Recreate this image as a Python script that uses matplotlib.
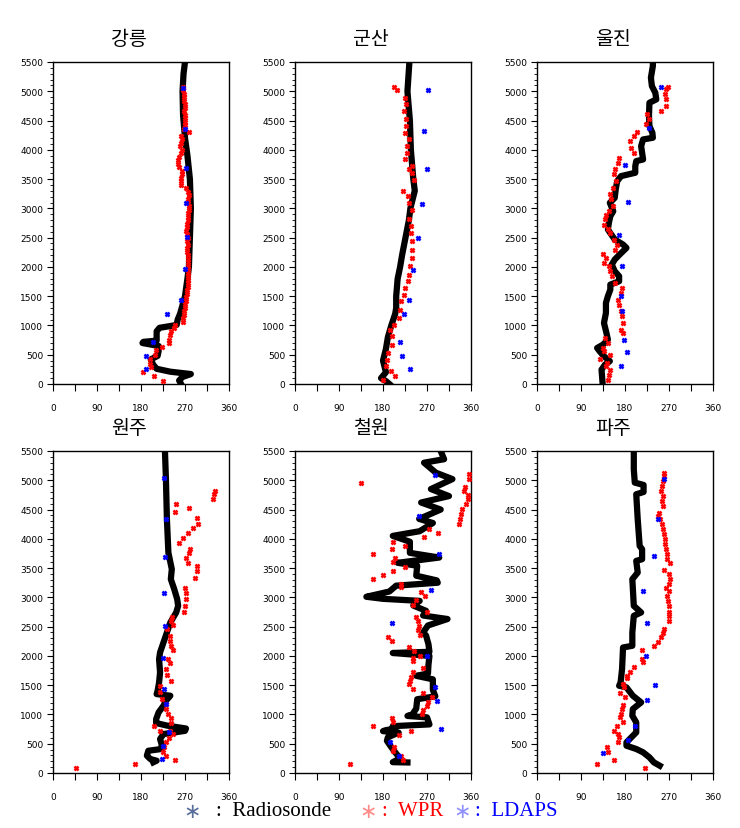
import matplotlib
matplotlib.use('Agg')
import matplotlib.pyplot as plt
from matplotlib.ticker import MultipleLocator

stations = ['강릉', '군산', '울진', '원주', '철원', '파주']

# ---- 강릉 ----
gn_rs_dir = [262, 258, 265, 282, 240, 212, 205, 200, 214, 216, 216, 183, 185, 212, 212,
             212, 218, 240, 253, 255, 260, 265, 270, 275, 278, 280, 282, 280, 275, 270,
             266, 265, 267, 270]
gn_rs_h = [0, 60, 120, 170, 210, 260, 330, 420, 480, 560, 650, 700, 720, 740, 800,
           900, 960, 990, 1010, 1100, 1200, 1350, 1500, 1800, 2000, 2500, 3000, 3500, 3900, 4200,
           4600, 5000, 5300, 5500]
gn_wpr_dir = [225, 207, 185, 200, 199, 198, 209, 211, 222, 237,
              238, 240, 241, 248, 249, 265, 266, 267, 268, 270,
              271, 272, 273, 274, 275, 276, 276, 277, 277, 276,
              276, 277, 277, 276, 276, 275, 275, 276, 275, 276,
              274, 273, 274, 275, 276, 277, 277, 278, 278, 276,
              277, 278, 276, 272, 262, 261, 262, 264, 263, 257,
              256, 255, 257, 262, 263, 260, 262, 263, 262, 278,
              268, 270, 270, 271, 269, 268, 269, 270, 268, 268,
              267, 266, 265]
gn_wpr_h = [57, 142, 210, 290, 350, 420, 500, 575, 630, 700,
            760, 830, 900, 960, 1010, 1060, 1120, 1180, 1240, 1300,
            1360, 1420, 1480, 1540, 1600, 1660, 1720, 1780, 1840, 1900,
            1960, 2020, 2080, 2140, 2200, 2260, 2320, 2380, 2440, 2500,
            2560, 2620, 2680, 2740, 2800, 2860, 2920, 2980, 3040, 3100,
            3160, 3220, 3280, 3340, 3400, 3460, 3520, 3580, 3640, 3700,
            3760, 3820, 3880, 3940, 4000, 4060, 4120, 4180, 4240, 4300,
            4360, 4420, 4480, 4540, 4600, 4660, 4720, 4780, 4840, 4900,
            4960, 5020, 5080]
gn_ld_dir = [265, 269, 272, 272, 274, 271, 262, 234, 204, 191, 191]
gn_ld_h = [5060, 4360, 3693, 3095, 2508, 1966, 1442, 1197, 712, 484, 256]

# ---- 군산 ----
gs_rs_dir = [193, 186, 176, 186, 183, 180, 186, 190, 197, 201, 205, 207, 207, 210, 215,
             219, 226, 233, 236, 245, 242, 237, 235, 230, 234]
gs_rs_h = [0, 50, 100, 200, 300, 400, 600, 800, 1000, 1100, 1200, 1300, 1500, 1800, 2000,
           2200, 2500, 2800, 3000, 3300, 3500, 4000, 4500, 5000, 5500]
gs_wpr_dir = [180, 205, 197, 186, 188, 190, 199, 199, 195, 203,
              212, 215, 217, 222, 226, 231, 234, 236, 240, 239,
              239, 237, 237, 233, 240, 233, 231, 220, 243, 240,
              234, 240, 226, 230, 230, 233, 226, 228, 227, 222,
              228, 225, 208, 202]
gs_wpr_h = [74, 142, 216, 302, 416, 530, 672, 815, 929, 1014,
            1128, 1271, 1413, 1527, 1641, 1755, 1869, 2011, 2154, 2297,
            2439, 2582, 2696, 2810, 2980, 3095, 3209, 3294, 3493, 3607,
            3664, 3721, 3835, 3949, 4063, 4177, 4291, 4405, 4519, 4662,
            4776, 4890, 5021, 5078]
gs_ld_dir = [273, 264, 270, 260, 251, 242, 233, 222, 215, 219, 236]
gs_ld_h = [5021, 4320, 3676, 3066, 2496, 1955, 1442, 1197, 712, 484, 256]

# ---- 울진 ----
uj_rs_dir = [134, 132, 139, 149, 137, 128, 123, 135, 145, 142, 137, 141, 141, 145, 150,
             150, 168, 168, 159, 153, 159, 169, 183, 176, 159, 152, 145, 147, 150, 156,
             149, 159, 161, 164, 172, 201, 201, 203, 217, 215, 213, 217, 237, 236, 230,
             229, 230, 244, 242, 235, 233, 237, 237]
uj_rs_h = [30, 245, 330, 390, 473, 560, 615, 672, 758, 872, 1043, 1214, 1385, 1499, 1613,
           1698, 1755, 1841, 1926, 2040, 2126, 2211, 2325, 2382, 2468, 2553, 2639, 2753, 2867, 2952,
           3095, 3180, 3323, 3465, 3551, 3608, 3721, 3807, 3835, 3949, 4063, 4177, 4206, 4291, 4405,
           4576, 4804, 4861, 4975, 5089, 5232, 5432, 5500]
uj_wpr_dir = [145, 147, 149, 142, 143, 128, 149, 137, 134, 145,
              139, 176, 171, 176, 174, 172, 168, 166, 172, 174,
              159, 154, 149, 147, 137, 142, 135, 160, 164, 157,
              150, 145, 137, 139, 142, 147, 156, 152, 149, 156,
              161, 158, 160, 166, 168, 198, 192, 190, 198, 205,
              223, 229, 225, 254, 263, 263, 261, 264, 268]
uj_wpr_h = [74, 160, 245, 302, 359, 427, 502, 559, 615, 701,
            786, 872, 929, 1043, 1157, 1242, 1356, 1442, 1556, 1641,
            1727, 1841, 1926, 2012, 2069, 2154, 2223, 2297, 2382, 2468,
            2582, 2639, 2724, 2810, 2895, 2952, 3038, 3152, 3237, 3351,
            3465, 3579, 3664, 3778, 3864, 3949, 4035, 4149, 4234, 4309,
            4433, 4519, 4605, 4662, 4747, 4861, 4947, 5032, 5078]
uj_ld_dir = [253, 229, 181, 186, 167, 174, 172, 174, 177, 185, 172]
uj_ld_h = [5072, 4377, 3733, 3117, 2547, 2012, 1499, 1242, 758, 541, 302]

# ---- 원주 ----
wj_rs_dir = [205, 212, 199, 192, 195, 222, 222, 219, 226, 270, 272, 233, 211, 211, 216,
             226, 231, 240, 212, 214, 217, 219, 217, 219, 226, 233, 240, 252, 256, 254,
             248, 241, 243, 236, 233, 231, 229]
wj_rs_h = [182, 210, 239, 296, 380, 410, 495, 580, 665, 720, 760, 810, 853, 921, 1035,
           1149, 1234, 1320, 1348, 1405, 1547, 1718, 1945, 2059, 2230, 2400, 2571, 2742, 2855, 2969,
           3140, 3310, 3481, 3765, 4334, 5017, 5500]
wj_wpr_dir = [48, 168, 250, 231, 225, 228, 231, 237, 245, 239,
              219, 207, 241, 241, 236, 231, 231, 223, 219, 219,
              241, 233, 231, 239, 236, 245, 241, 239, 239, 233,
              246, 241, 243, 267, 271, 273, 272, 270, 291, 294,
              294, 277, 273, 279, 280, 257, 265, 277, 287, 297,
              294, 279, 250, 252, 328, 329, 331]
wj_wpr_h = [80, 154, 222, 296, 364, 438, 523, 592, 665, 722,
            722, 808, 853, 933, 1007, 1092, 1177, 1263, 1376, 1490,
            1576, 1672, 1775, 1877, 1945, 2099, 2173, 2258, 2343, 2457,
            2525, 2599, 2668, 2753, 2855, 2969, 3083, 3168, 3339, 3453,
            3538, 3595, 3680, 3765, 3822, 3936, 4021, 4107, 4192, 4249,
            4363, 4533, 4459, 4601, 4675, 4761, 4818]
wj_ld_dir = [227, 231, 229, 227, 229, 224, 227, 231, 237, 226, 222]
wj_ld_h = [5045, 4345, 3697, 3083, 2503, 1957, 1433, 1177, 705, 455, 239]

# ---- 철원 ----
cw_rs_dir = [230, 200, 215, 210, 197, 188, 190, 212, 180, 185, 205, 200, 275, 270, 230,
             240, 248, 250, 287, 282, 282, 248, 272, 273, 275, 200, 275, 273, 268, 262,
             272, 312, 262, 268, 242, 255, 180, 146, 193, 207, 292, 290, 248, 250, 210,
             295, 235, 235, 200, 255, 282, 254, 298, 258, 315, 278, 322, 288, 264, 305,
             298]
cw_rs_h = [180, 185, 250, 300, 440, 550, 610, 690, 715, 730, 760, 800, 830, 950, 975,
           1000, 1100, 1260, 1310, 1420, 1600, 1660, 1700, 1850, 2000, 2050, 2070, 2200, 2350, 2400,
           2520, 2630, 2690, 2770, 2860, 2940, 2975, 3010, 3100, 3200, 3250, 3290, 3370, 3540, 3590,
           3680, 3760, 3950, 4050, 4130, 4270, 4340, 4500, 4620, 4730, 4850, 5020, 5130, 5300, 5360,
           5500]
cw_wpr_dir = [112, 220, 217, 200, 202, 212, 237, 159, 199, 200,
              260, 262, 271, 273, 280, 261, 242, 233, 236, 237,
              242, 262, 256, 241, 241, 243, 233, 191, 199, 256,
              252, 254, 251, 247, 271, 241, 247, 266, 258, 217,
              217, 159, 180, 200, 224, 201, 205, 159, 199, 224,
              201, 264, 292, 275, 336, 338, 339, 341, 349, 354,
              354, 346, 348, 356, 356, 136]
cw_wpr_h = [154, 228, 284, 370, 438, 648, 711, 796, 933, 865,
            1012, 1069, 1149, 1206, 1291, 1365, 1433, 1519, 1576, 1632,
            1729, 1792, 2002, 1905, 1962, 2088, 2156, 2315, 2247, 2360,
            2446, 2514, 2599, 2673, 2742, 2867, 2952, 3026, 3094, 3180,
            3236, 3310, 3384, 3453, 3527, 3606, 3680, 3737, 3822, 3879,
            3953, 4033, 4095, 4175, 4249, 4334, 4420, 4505, 4590, 4676,
            4744, 4818, 4892, 5028, 5102, 4960]
cw_ld_dir = [286, 253, 294, 279, 199, 271, 287, 290, 298, 195, 212]
cw_ld_h = [5085, 4391, 3737, 3123, 2560, 1991, 1476, 1226, 751, 523, 284]

# ---- 파주 ----
pj_rs_dir = [251, 239, 230, 217, 203, 183, 183, 193, 203, 203, 195, 196, 213, 196, 183,
             168, 171, 174, 176, 195, 195, 198, 213, 198, 195, 206, 203, 215, 215, 210,
             206, 203, 218, 218, 200, 198, 198]
pj_rs_h = [125, 182, 267, 353, 410, 466, 523, 609, 694, 865, 978, 1092, 1206, 1320, 1462,
           1490, 1547, 1775, 2144, 2173, 2400, 2685, 2742, 2855, 3310, 3424, 3623, 3652, 3822, 3879,
           4334, 4761, 4800, 4920, 4960, 5188, 5500]
pj_wpr_dir = [220, 122, 157, 145, 143, 166, 168, 166, 157, 164,
              175, 170, 172, 174, 175, 179, 169, 177, 175, 184,
              184, 190, 198, 217, 215, 215, 240, 247, 253, 258,
              259, 271, 271, 270, 269, 267, 265, 271, 264, 271,
              272, 270, 259, 273, 266, 266, 264, 262, 262, 259,
              258, 256, 252, 247, 250, 258, 256, 258, 253, 256,
              258, 259, 259]
pj_wpr_h = [80, 154, 228, 353, 438, 523, 609, 665, 722, 808,
            865, 950, 1007, 1092, 1160, 1291, 1365, 1462, 1519, 1615,
            1661, 1718, 1803, 1888, 1945, 2099, 2173, 2241, 2315, 2383,
            2457, 2600, 2685, 2753, 2855, 2941, 3026, 3111, 3168, 3225,
            3310, 3395, 3465, 3595, 3652, 3737, 3822, 3907, 3993, 4078,
            4163, 4249, 4334, 4391, 4448, 4562, 4647, 4733, 4818, 4903,
            4988, 5074, 5119]
pj_ld_dir = [259, 247, 239, 217, 225, 222, 242, 225, 201, 187, 135]
pj_ld_h = [5028, 4345, 3709, 3111, 2560, 2002, 1502, 1246, 796, 563, 341]

panels = [
    (gn_rs_dir, gn_rs_h, gn_wpr_dir, gn_wpr_h, gn_ld_dir, gn_ld_h),
    (gs_rs_dir, gs_rs_h, gs_wpr_dir, gs_wpr_h, gs_ld_dir, gs_ld_h),
    (uj_rs_dir, uj_rs_h, uj_wpr_dir, uj_wpr_h, uj_ld_dir, uj_ld_h),
    (wj_rs_dir, wj_rs_h, wj_wpr_dir, wj_wpr_h, wj_ld_dir, wj_ld_h),
    (cw_rs_dir, cw_rs_h, cw_wpr_dir, cw_wpr_h, cw_ld_dir, cw_ld_h),
    (pj_rs_dir, pj_rs_h, pj_wpr_dir, pj_wpr_h, pj_ld_dir, pj_ld_h),
]

fig = plt.figure(figsize=(7.4, 8.29), dpi=100)
lefts = [53, 295, 537]
tops = [63, 452]
W, H = 740, 829
aw, ah = 176, 322

for i, (name, p) in enumerate(zip(stations, panels)):
    rs_d, rs_h, wpr_d, wpr_h, ld_d, ld_h = p
    l = lefts[i % 3]
    t = tops[i // 3]
    ax = fig.add_axes([l / W, 1 - (t + ah) / H, aw / W, ah / H])
    ax.plot(rs_d, rs_h, color='black', lw=4.5, zorder=2)
    ax.plot(wpr_d, wpr_h, 'x', color='red', ms=3.5, mew=1.8, zorder=3)
    ax.plot(ld_d, ld_h, 'x', color='blue', ms=3.5, mew=1.8, zorder=4)
    ax.set_xlim(0, 360)
    ax.set_ylim(0, 5500)
    ax.xaxis.set_major_locator(MultipleLocator(90))
    ax.xaxis.set_minor_locator(MultipleLocator(45))
    ax.yaxis.set_major_locator(MultipleLocator(500))
    ax.yaxis.set_minor_locator(MultipleLocator(100))
    ax.tick_params(axis='x', which='both', direction='out', length=5, width=0.8,
                   labelsize=6.5, pad=9)
    ax.tick_params(axis='y', which='major', direction='out', length=4, width=0.8,
                   labelsize=6.5, pad=3)
    ax.tick_params(axis='y', which='minor', direction='out', length=2, width=0.6)
    for s in ax.spines.values():
        s.set_linewidth(1.0)
    # titles sit a little left of the panel centre in the original
    ax.set_title(name, fontsize=14, family=['Noto Sans CJK KR', 'DejaVu Sans'],
                 x=0.43, pad=13)

# legend line at the bottom
ly = 1 - 812 / H
fig.text(192 / W, ly, '\u2217', color='#5a6e9a', fontsize=15, ha='center', va='center',
         family='DejaVu Sans')
fig.text(216 / W, ly, ':  Radiosonde', color='black', fontsize=15, ha='left',
         va='center', family='Liberation Serif')
fig.text(368 / W, ly, '\u2217', color='#ff8a8a', fontsize=15, ha='center', va='center',
         family='DejaVu Sans')
fig.text(382 / W, ly, ':  WPR', color='red', fontsize=15, ha='left',
         va='center', family='Liberation Serif')
fig.text(462 / W, ly, '\u2217', color='#9090ff', fontsize=15, ha='center', va='center',
         family='DejaVu Sans')
fig.text(475 / W, ly, ':  LDAPS', color='blue', fontsize=15, ha='left',
         va='center', family='Liberation Serif')

fig.savefig('out.png', dpi=100)
